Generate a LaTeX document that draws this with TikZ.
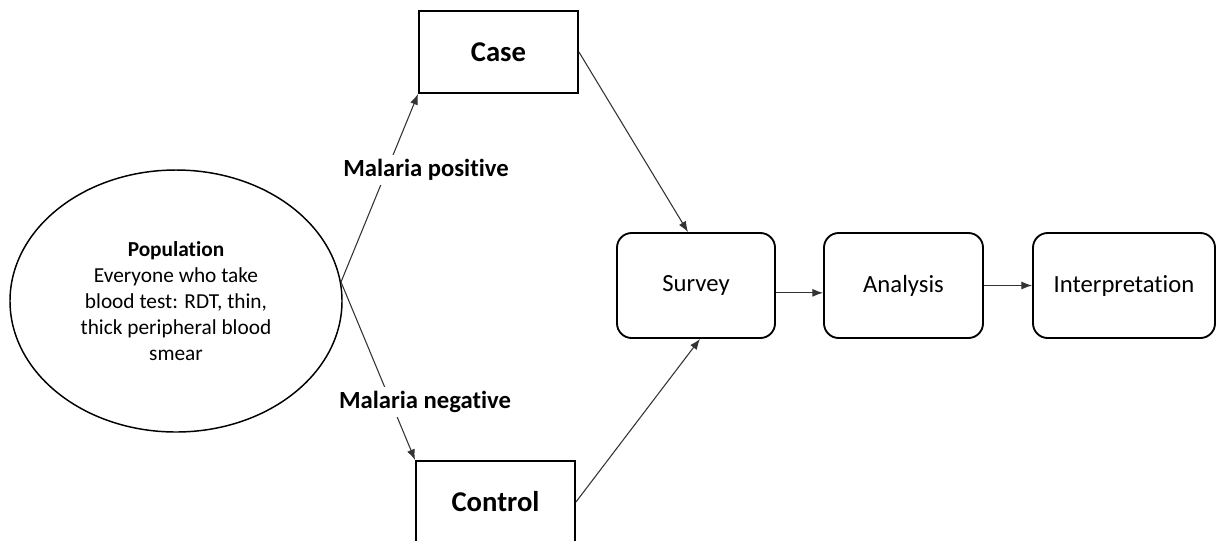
\documentclass[tikz,border=0pt]{standalone}
\usepackage{fontspec}
\setmainfont{Carlito}[Ligatures=NoCommon]
\usetikzlibrary{shapes.geometric,arrows.meta}
\begin{document}
\begin{tikzpicture}[x=0.75pt,y=-0.75pt,
  sqbox/.style={draw,line width=1.4pt,minimum width=119.25pt,minimum height=61.5pt,font=\fontsize{21.5}{26}\selectfont\bfseries},
  rbox/.style={draw,line width=1.4pt,rounded corners=11pt,minimum height=78.75pt,font=\fontsize{18.5}{22}\selectfont},
  lbl/.style={fill=white,inner sep=3pt,font=\fontsize{18.5}{22}\selectfont\bfseries},
  arr/.style={draw=black!80,line width=0.8pt,-{Latex[length=8pt,width=6pt]}}]
\useasboundingbox (0,0) rectangle (1216,540);
\node[ellipse,draw,line width=1.1pt,minimum width=249pt,minimum height=196.5pt,align=center,
  font=\fontsize{16}{19.5}\selectfont] (pop) at (176,301)
  {\textbf{Population}\\Everyone who take\\blood test: RDT, thin,\\thick peripheral blood\\smear};
\node[sqbox] (case) at (498.5,52) {Case};
\node[sqbox] (control) at (495.5,502) {Control};
\node[rbox,minimum width=118.5pt] (survey) at (696,285.5) {\raisebox{-2pt}{Survey}};
\node[rbox,minimum width=119.25pt] (analysis) at (903.5,285.5) {\raisebox{-2pt}{Analysis}};
\node[rbox,minimum width=136.5pt] (interp) at (1124,285.5) {\raisebox{-2pt}{Interpretation}};
\coordinate (src) at (341,282);
\draw[arr] (src) -- (case.south west);
\draw[arr] (src) -- (control.north west);
\draw[arr] (case.east) -- ([xshift=-6pt]survey.north);
\draw[arr] (control.east) -- ([xshift=3pt]survey.south);
\draw[arr] ([yshift=-5.5pt]survey.east) -- ([yshift=-5.5pt]analysis.west);
\draw[arr] (analysis.east) -- (interp.west);
\node[lbl] (pos) at (426,170) {Malaria positive};
\node[lbl] (neg) at (425,402) {Malaria negative};
\end{tikzpicture}
\end{document}
